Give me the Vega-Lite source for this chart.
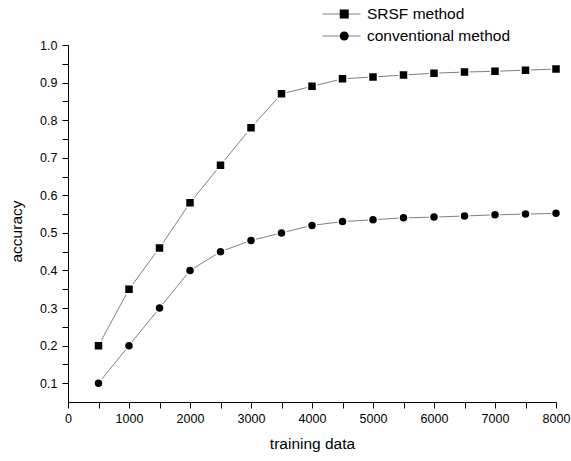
{
  "$schema": "https://vega.github.io/schema/vega-lite/v6.json",
  "autosize": {"type": "none"},
  "width": 488,
  "height": 357,
  "padding": {"left": 68, "top": 45, "right": 15, "bottom": 59},
  "background": "white",
  "config": {
    "view": {"stroke": null},
    "font": "Liberation Sans",
    "axis": {
      "domainColor": "black",
      "tickColor": "black",
      "labelColor": "black",
      "titleColor": "black",
      "labelFont": "Liberation Sans",
      "titleFont": "Liberation Sans",
      "labelFontSize": 12.5,
      "titleFontSize": 15.5,
      "titleFontWeight": "normal",
      "grid": false,
      "domainWidth": 1,
      "tickWidth": 1
    }
  },
  "data": {
    "values": [
      {"n": 500, "acc": 0.2, "series": "SRSF method"},
      {"n": 1000, "acc": 0.35, "series": "SRSF method"},
      {"n": 1500, "acc": 0.46, "series": "SRSF method"},
      {"n": 2000, "acc": 0.58, "series": "SRSF method"},
      {"n": 2500, "acc": 0.68, "series": "SRSF method"},
      {"n": 3000, "acc": 0.78, "series": "SRSF method"},
      {"n": 3500, "acc": 0.87, "series": "SRSF method"},
      {"n": 4000, "acc": 0.89, "series": "SRSF method"},
      {"n": 4500, "acc": 0.91, "series": "SRSF method"},
      {"n": 5000, "acc": 0.915, "series": "SRSF method"},
      {"n": 5500, "acc": 0.92, "series": "SRSF method"},
      {"n": 6000, "acc": 0.925, "series": "SRSF method"},
      {"n": 6500, "acc": 0.928, "series": "SRSF method"},
      {"n": 7000, "acc": 0.93, "series": "SRSF method"},
      {"n": 7500, "acc": 0.933, "series": "SRSF method"},
      {"n": 8000, "acc": 0.936, "series": "SRSF method"},
      {"n": 500, "acc": 0.1, "series": "conventional method"},
      {"n": 1000, "acc": 0.2, "series": "conventional method"},
      {"n": 1500, "acc": 0.3, "series": "conventional method"},
      {"n": 2000, "acc": 0.4, "series": "conventional method"},
      {"n": 2500, "acc": 0.45, "series": "conventional method"},
      {"n": 3000, "acc": 0.48, "series": "conventional method"},
      {"n": 3500, "acc": 0.5, "series": "conventional method"},
      {"n": 4000, "acc": 0.52, "series": "conventional method"},
      {"n": 4500, "acc": 0.53, "series": "conventional method"},
      {"n": 5000, "acc": 0.535, "series": "conventional method"},
      {"n": 5500, "acc": 0.54, "series": "conventional method"},
      {"n": 6000, "acc": 0.542, "series": "conventional method"},
      {"n": 6500, "acc": 0.545, "series": "conventional method"},
      {"n": 7000, "acc": 0.548, "series": "conventional method"},
      {"n": 7500, "acc": 0.55, "series": "conventional method"},
      {"n": 8000, "acc": 0.552, "series": "conventional method"}
    ]
  },
  "layer": [
    {
      "mark": {"type": "line", "strokeWidth": 1},
      "encoding": {
        "x": {
          "field": "n", "type": "quantitative",
          "scale": {"domain": [0, 8000], "nice": false, "zero": false},
          "axis": {
            "orient": "bottom",
            "title": "training data",
            "values": [0, 500, 1000, 1500, 2000, 2500, 3000, 3500, 4000, 4500, 5000, 5500, 6000, 6500, 7000, 7500, 8000],
            "labelExpr": "datum.value % 1000 === 0 ? format(datum.value, 'd') : ''",
            "labelOverlap": false,
            "tickSize": 6,
            "labelPadding": 4,
            "titlePadding": 12,
            "labelFlush": false,
            "encode": {
              "ticks": {"y2": {"value": {"expr": "datum.value % 1000 === 0 ? 6 : 3"}}}
            }
          }
        },
        "y": {
          "field": "acc", "type": "quantitative",
          "scale": {"domain": [0.05, 1.0], "nice": false, "zero": false},
          "axis": {
            "orient": "left",
            "title": "accuracy",
            "values": [0.1, 0.15, 0.2, 0.25, 0.3, 0.35, 0.4, 0.45, 0.5, 0.55, 0.6, 0.65, 0.7, 0.75, 0.8, 0.85, 0.9, 0.95, 1.0],
            "labelExpr": "round(datum.value * 20) % 2 === 0 ? format(datum.value, '.1f') : ''",
            "labelOverlap": false,
            "tickSize": 6,
            "labelPadding": 5,
            "titlePadding": 15,
            "titleY": 186,
            "encode": {
              "ticks": {"x2": {"value": {"expr": "round(datum.value * 20) % 2 === 0 ? -6 : -3"}}}
            }
          }
        },
        "color": {
          "field": "series", "type": "nominal",
          "scale": {"range": ["#808080", "#808080"]},
          "legend": {
            "orient": "none",
            "legendX": 254,
            "legendY": -38.5,
            "title": null,
            "padding": 0,
            "symbolType": "stroke",
            "symbolSize": 1444,
            "symbolStrokeWidth": 1,
            "clipHeight": 15,
            "labelFont": "Liberation Sans",
            "labelFontSize": 15.5,
            "labelColor": "black",
            "labelOffset": 6,
            "rowPadding": 6
          }
        }
      }
    },
    {
      "mark": {"type": "point", "filled": true, "fill": "black", "stroke": "white", "strokeWidth": 1.5, "size": 81, "opacity": 1},
      "encoding": {
        "x": {"field": "n", "type": "quantitative", "axis": null},
        "y": {"field": "acc", "type": "quantitative", "axis": null},
        "shape": {
          "field": "series", "type": "nominal",
          "scale": {"domain": ["SRSF method", "conventional method"], "range": ["square", "circle"]},
          "legend": {
            "orient": "none",
            "legendX": 268.5,
            "legendY": -38.5,
            "title": null,
            "padding": 0,
            "symbolSize": 81,
            "symbolFillColor": "black",
            "symbolStrokeColor": "white",
            "symbolStrokeWidth": 1.5,
            "clipHeight": 15,
            "labelExpr": "''",
            "labelOffset": 0,
            "labelFontSize": 15.5,
            "rowPadding": 6
          }
        }
      }
    }
  ],
  "resolve": {"axis": {"x": "independent", "y": "independent"}}
}
